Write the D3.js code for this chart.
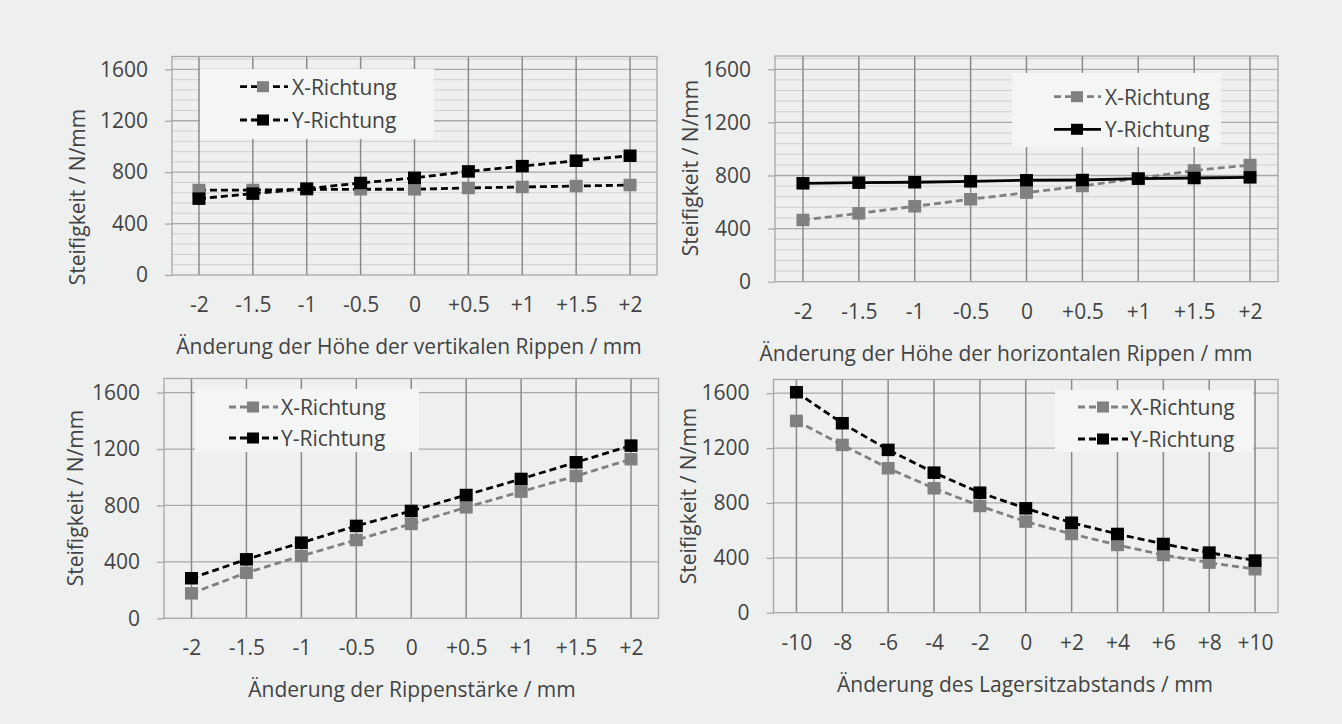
<!DOCTYPE html>
<html>
<head>
<meta charset="utf-8">
<script src="https://cdn.jsdelivr.net/npm/d3@7"></script>
<style>
  html, body { margin: 0; padding: 0; background: #eef0f0; }
  svg { display: block; }
  text { font-family: "Open Sans", sans-serif; fill: #434343; }
</style>
</head>
<body>
<svg id="chart" width="1342" height="724"></svg>
<script>
// ---------- data ----------
const catsRibs = ["-2", "-1.5", "-1", "-0.5", "0", "+0.5", "+1", "+1.5", "+2"];
const catsBearing = ["-10", "-8", "-6", "-4", "-2", "0", "+2", "+4", "+6", "+8", "+10"];
const yTickValues = [0, 400, 800, 1200, 1600];
const seriesNames = ["X-Richtung", "Y-Richtung"];
const yAxisTitle = "Steifigkeit / N/mm";
const xTitles = [
  "Änderung der Höhe der vertikalen Rippen / mm",
  "Änderung der Höhe der horizontalen Rippen / mm",
  "Änderung der Rippenstärke / mm",
  "Änderung des Lagersitzabstands / mm"
];
const vertX = [661, 661, 665, 667, 667, 677, 685, 692, 700];
const vertY = [594, 633, 672, 716, 756, 806, 847, 889, 928];
const horzX = [465, 515, 568, 621, 671, 721, 779, 838, 879];
const horzY = [741, 746, 749, 756, 764, 766, 776, 781, 786];
const thickX = [177, 323, 442, 555, 669, 787, 898, 1009, 1128];
const thickY = [284, 418, 536, 655, 761, 874, 988, 1106, 1224];
const bearX = [1398, 1223, 1053, 907, 778, 664, 574, 494, 421, 365, 317];
const bearY = [1607, 1381, 1187, 1021, 875, 761, 656, 574, 501, 438, 380];

// ---------- layout / styles ----------
const GREY = "#808080", BLACK = "#000000";
const panels = [
  { cats: catsRibs, data: [vertX, vertY], title: xTitles[0],
    frame: { l: 172, r: 657, b: 275, t: 56.5 }, minor: true,
    ytitle: { x: 77, y: 197 }, xtitleX: 409,
    styles: [ { line: BLACK, dash: "7,4", marker: GREY }, { line: BLACK, dash: "7,4", marker: BLACK } ],
    legend: { box: [200, 69, 434, 139], lx: [240, 288], mx: 263, tx: 292, rows: [86.7, 120] } },
  { cats: catsRibs, data: [horzX, horzY], title: xTitles[1],
    frame: { l: 775, r: 1278, b: 281.7, t: 56 }, minor: true,
    ytitle: { x: 690, y: 168 }, xtitleX: 1006,
    styles: [ { line: GREY, dash: "7,4", marker: GREY }, { line: BLACK, dash: null, marker: BLACK } ],
    legend: { box: [1012, 73, 1221, 147], lx: [1054, 1101], mx: 1077, tx: 1105, rows: [96.7, 129.3] } },
  { cats: catsRibs, data: [thickX, thickY], title: xTitles[2],
    frame: { l: 164, r: 658.5, b: 618.3, t: 378.5 }, minor: false,
    ytitle: { x: 75, y: 498 }, xtitleX: 412,
    styles: [ { line: GREY, dash: "7,4", marker: GREY }, { line: BLACK, dash: "7,4", marker: BLACK } ],
    legend: { box: [195, 389, 419, 452], lx: [229, 278], mx: 253, tx: 281, rows: [407, 438] } },
  { cats: catsBearing, data: [bearX, bearY], title: xTitles[3],
    frame: { l: 773.5, r: 1278, b: 612.7, t: 379.5 }, minor: false,
    ytitle: { x: 688, y: 496 }, xtitleX: 1025,
    styles: [ { line: GREY, dash: "7,4", marker: GREY }, { line: BLACK, dash: "7,4", marker: BLACK } ],
    legend: { box: [1055, 390, 1253, 452], lx: [1078, 1128], mx: 1103, tx: 1130, rows: [407, 439] } }
];

const svg = d3.select("#chart");
svg.append("rect").attr("width", 1342).attr("height", 724).attr("fill", "#eef0f0");

const FS = 21;
const MW = 13, MH = 12.5; // marker size

panels.forEach(p => {
  const f = p.frame;
  const g = svg.append("g");
  const x = d3.scalePoint().domain(p.cats).range([f.l, f.r]).padding(0.5);
  const y = d3.scaleLinear().domain([0, 1700]).range([f.b, f.t]);

  // minor horizontal gridlines
  if (p.minor) {
    const minors = d3.range(80, 1700, 80).filter(v => v % 400 !== 0);
    g.append("g").selectAll("line").data(minors).join("line")
      .attr("x1", f.l).attr("x2", f.r)
      .attr("y1", d => y(d)).attr("y2", d => y(d))
      .attr("stroke", "#cfd1d1").attr("stroke-width", 1);
  }
  // major horizontal gridlines + ticks (via axis)
  const yAxis = d3.axisLeft(y).tickValues(yTickValues).tickSize(7).tickPadding(17).tickFormat(d3.format("d"));
  const ya = g.append("g").attr("transform", `translate(${f.l},0)`).call(yAxis);
  ya.select(".domain").remove();
  ya.selectAll(".tick line").attr("stroke", "#a9a9a9").attr("stroke-width", 1.3);
  ya.selectAll(".tick text").attr("font-size", FS).attr("fill", "#434343")
    .attr("font-family", "Open Sans, sans-serif");
  g.append("g").selectAll("line").data(yTickValues.filter(v => v > 0)).join("line")
    .attr("x1", f.l).attr("x2", f.r)
    .attr("y1", d => y(d)).attr("y2", d => y(d))
    .attr("stroke", "#a9a9a9").attr("stroke-width", 1.3);

  // vertical gridlines
  g.append("g").selectAll("line").data(p.cats).join("line")
    .attr("x1", d => x(d)).attr("x2", d => x(d))
    .attr("y1", f.t).attr("y2", f.b)
    .attr("stroke", "#8a8a8a").attr("stroke-width", 1.5);

  // frame
  g.append("rect").attr("x", f.l).attr("y", f.t).attr("width", f.r - f.l).attr("height", f.b - f.t)
    .attr("fill", "none").attr("stroke", "#a6a6a6").attr("stroke-width", 1.3);

  // x axis labels (via axis)
  const xAxis = d3.axisBottom(x).tickSize(0).tickPadding(22);
  const xa = g.append("g").attr("transform", `translate(0,${f.b})`).call(xAxis);
  xa.select(".domain").remove();
  xa.selectAll(".tick text").attr("font-size", FS).attr("fill", "#434343")
    .attr("font-family", "Open Sans, sans-serif");

  // x title
  g.append("text").attr("x", p.xtitleX).attr("y", f.b + 71).attr("text-anchor", "middle")
    .attr("dominant-baseline", "central").attr("font-size", FS).text(p.title);

  // y title
  g.append("text").attr("transform", `translate(${p.ytitle.x},${p.ytitle.y}) rotate(-90)`)
    .attr("text-anchor", "middle").attr("dominant-baseline", "central")
    .attr("font-size", FS).text(yAxisTitle);

  // legend box
  const L = p.legend;
  g.append("rect").attr("x", L.box[0]).attr("y", L.box[1])
    .attr("width", L.box[2] - L.box[0]).attr("height", L.box[3] - L.box[1])
    .attr("fill", "#f4f5f5");

  // series
  p.data.forEach((vals, si) => {
    const st = p.styles[si];
    const pts = p.cats.map((c, i) => [x(c), y(vals[i])]);
    g.append("path").attr("d", d3.line()(pts)).attr("fill", "none")
      .attr("stroke", st.line).attr("stroke-width", 2.8)
      .attr("stroke-dasharray", st.dash);
    g.append("g").selectAll("rect").data(pts).join("rect")
      .attr("x", d => d[0] - MW / 2).attr("y", d => d[1] - MH / 2)
      .attr("width", MW).attr("height", MH).attr("fill", st.marker);
  });

  // legend entries
  seriesNames.forEach((name, si) => {
    const st = p.styles[si];
    const ry = L.rows[si];
    g.append("line").attr("x1", L.lx[0]).attr("x2", L.lx[1]).attr("y1", ry).attr("y2", ry)
      .attr("stroke", st.line).attr("stroke-width", 2.8).attr("stroke-dasharray", st.dash);
    g.append("rect").attr("x", L.mx - 6).attr("y", ry - 5.5).attr("width", 12).attr("height", 11)
      .attr("fill", st.marker);
    g.append("text").attr("x", L.tx).attr("y", ry).attr("dominant-baseline", "central")
      .attr("font-size", FS).text(name);
  });
});
</script>
</body>
</html>
